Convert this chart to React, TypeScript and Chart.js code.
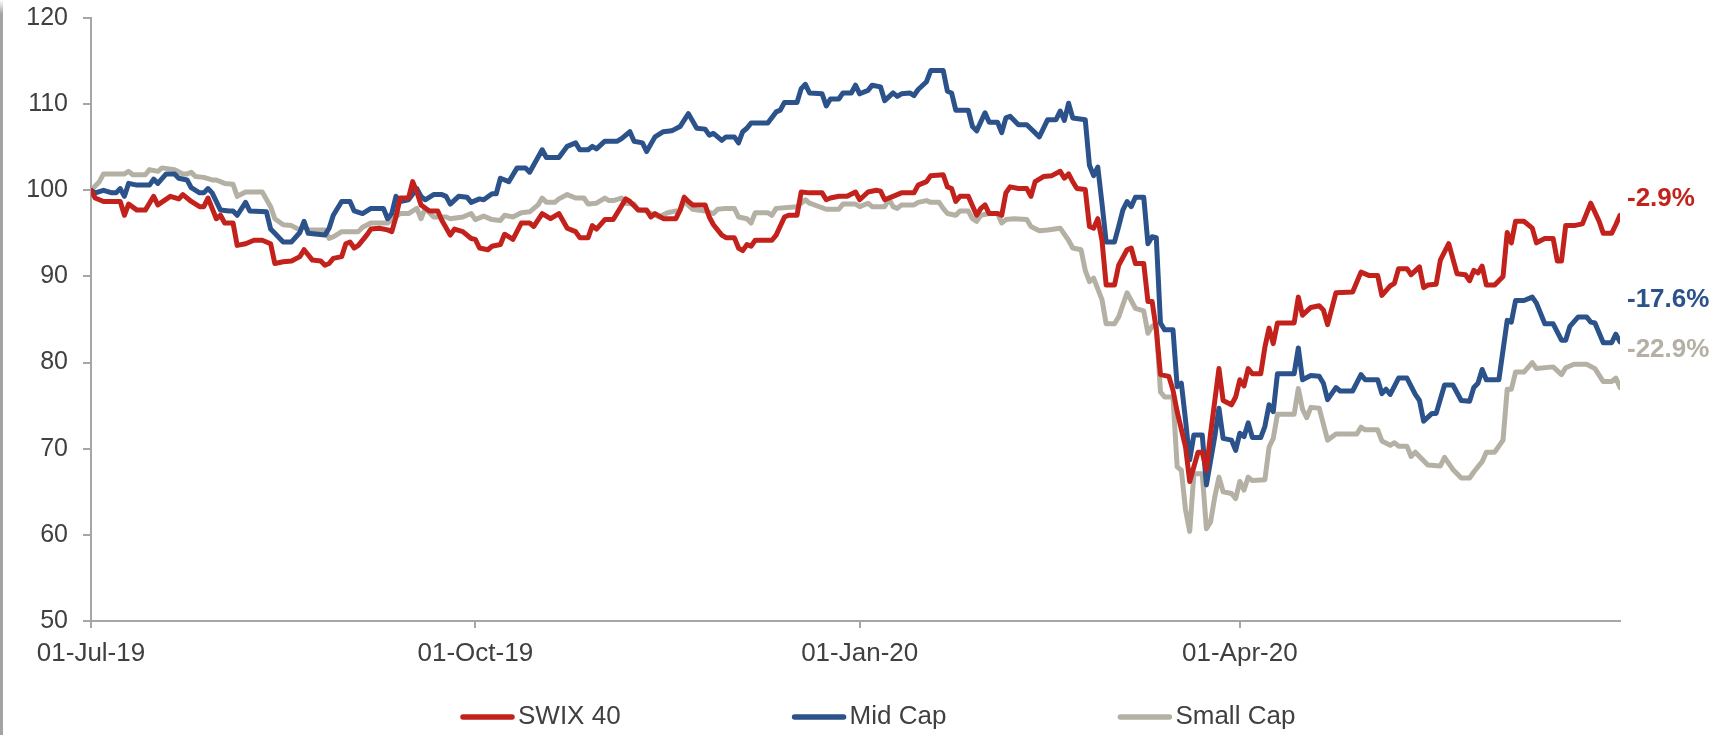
import { useEffect, useRef } from "react";
import { Chart, registerables } from "chart.js";
import type { Plugin } from "chart.js";

Chart.register(...registerables);

const FONT = '"Liberation Sans", Arial, Helvetica, sans-serif';
const TEXT_COLOR = "#404040";
const AXIS_COLOR = "#a6a6a6";

// x positions are days counted from 01-Jul-19
const tickDays = [0, 92, 184, 275];
const tickLabels = ["01-Jul-19", "01-Oct-19", "01-Jan-20", "01-Apr-20"];
const lastDay = 366;

const seriesNames = ["SWIX 40", "Mid Cap", "Small Cap"];
const seriesColors = ["#c3221c", "#2b528a", "#b4b0a4"];

// SWIX 40, rebased to 100
const swixDays = [
  0, 1, 3, 7, 8, 9, 11, 13, 15, 16,
  19, 21, 22, 24, 26, 27, 28, 29, 30, 31,
  32, 34, 35, 37, 39, 41, 43, 44, 46, 48,
  50, 51, 53, 55, 56, 57, 58, 60, 61, 62,
  63, 64, 66, 67, 69, 71, 72, 73, 74, 76,
  77, 78, 79, 81, 83, 84, 86, 87, 89, 91,
  92, 93, 95, 96, 98, 99, 101, 103, 105, 106,
  108, 110, 112, 114, 116, 117, 119, 120, 121, 123,
  125, 126, 128, 129, 131, 133, 134, 135, 137, 140,
  141, 142, 143, 144, 147, 148, 149, 151, 152, 154,
  155, 156, 157, 158, 159, 163, 164, 166, 167, 169,
  170, 172, 175, 176, 177, 179, 181, 183, 184, 186,
  188, 189, 190, 192, 194, 197, 198, 200, 201, 204,
  205, 206, 207, 208, 210, 212, 213, 214, 215, 217,
  218, 219, 220, 222, 224, 225, 226, 228, 230, 232,
  233, 234, 235, 236, 238, 239, 240, 241, 242, 243,
  245, 246, 248, 249, 250, 252, 253, 254, 255, 256,
  258, 259, 260, 262, 263, 264, 265, 266, 267, 268,
  270, 271, 273, 274, 275, 276, 277, 278, 280, 281,
  282, 283, 284, 288, 289, 290, 292, 294, 295, 296,
  298, 302, 304, 306, 308, 309, 311, 312, 313, 315,
  316, 318, 319, 320, 322, 323, 325, 327, 329, 330,
  331, 332, 333, 334, 336, 338, 339, 340, 341, 343,
  345, 346, 348, 350, 351, 352, 353, 355, 357, 359,
  361, 362, 364, 365, 366,
];
const swixValues = [
  100, 99.1, 98.7, 98.7, 97.1, 98.4, 97.7, 97.7, 99.3, 98.3,
  99.3, 99.0, 99.5, 98.7, 98.1, 98.1, 99.1, 97.9, 96.7, 97.1,
  96.2, 96.2, 93.6, 93.8, 94.2, 94.2, 93.8, 91.5, 91.7, 91.8,
  92.3, 93.1, 91.9, 91.8, 91.3, 91.5, 92.1, 92.3, 93.8, 94.0,
  93.3, 93.6, 94.8, 95.5, 95.6, 95.4, 95.2, 96.9, 99.1, 99.1,
  101.0, 99.8, 98.3, 97.6, 97.6, 96.5, 94.8, 95.5, 95.2, 94.4,
  94.3, 93.3, 93.1, 93.5, 93.7, 94.9, 94.3, 96.2, 96.2, 95.8,
  97.3, 96.7, 97.3, 95.6, 95.2, 94.5, 94.5, 95.9, 95.5, 96.6,
  96.6, 97.4, 99.0, 98.7, 97.7, 97.7, 96.9, 97.3, 96.7, 96.7,
  97.7, 99.2, 98.7, 98.3, 98.3, 96.9, 96.0, 94.8, 94.5, 94.5,
  93.3, 93.0, 93.7, 93.5, 94.2, 94.2, 94.8, 96.9, 97.1, 97.1,
  99.8, 99.7, 99.7, 98.9, 99.1, 99.3, 99.3, 99.8, 98.9, 99.8,
  100.0, 99.9, 98.9, 99.3, 99.7, 99.7, 100.6, 101.0, 101.7, 101.8,
  100.4, 100.2, 98.7, 99.3, 99.3, 97.1, 97.9, 98.3, 97.3, 97.3,
  97.1, 99.7, 100.4, 100.2, 100.2, 99.3, 101.0, 101.6, 101.7, 102.2,
  101.4, 101.9, 101.0, 100.2, 100.1, 95.8, 95.6, 96.7, 94.2, 89.0,
  89.0, 91.3, 93.1, 93.3, 91.5, 91.5, 87.1, 87.1, 83.8, 78.6,
  78.4, 76.8, 74.3, 70.2, 66.2, 67.9, 69.6, 69.6, 67.5, 71.8,
  79.3, 75.6, 75.1, 76.0, 78.0, 77.3, 79.3, 78.7, 78.7, 81.8,
  84.0, 82.2, 84.6, 84.6, 87.6, 85.5, 86.4, 86.6, 86.1, 84.4,
  88.1, 88.2, 90.5, 90.1, 90.1, 87.8, 88.9, 89.2, 90.9, 90.9,
  90.2, 91.1, 88.7, 89.0, 89.1, 91.9, 93.8, 90.3, 90.2, 89.5,
  90.7, 90.4, 91.2, 89.0, 89.0, 90.0, 95.1, 93.9, 96.4, 96.4,
  95.6, 93.9, 94.4, 94.4, 91.8, 91.8, 95.9, 95.9, 96.1, 98.5,
  96.4, 95.0, 95.0, 96.0, 97.1,
];

// Mid Cap, rebased to 100
const midDays = [
  0, 1, 3, 5, 6, 7, 8, 9, 11, 14,
  15, 16, 18, 20, 21, 23, 24, 26, 27, 28,
  29, 31, 33, 34, 35, 37, 38, 42, 43, 44,
  46, 48, 50, 51, 52, 56, 57, 58, 60, 62,
  63, 65, 67, 70, 71, 72, 73, 74, 76, 78,
  79, 80, 82, 84, 85, 86, 88, 90, 91, 93,
  94, 96, 97, 98, 100, 102, 104, 105, 108, 109,
  112, 114, 116, 117, 119, 120, 121, 123, 126, 127,
  129, 130, 132, 133, 135, 137, 139, 141, 143, 145,
  147, 148, 149, 151, 152, 154, 155, 156, 157, 158,
  162, 164, 165, 166, 169, 170, 171, 172, 175, 176,
  177, 179, 180, 182, 183, 184, 186, 187, 189, 190,
  192, 193, 194, 196, 197, 198, 200, 201, 204, 205,
  206, 207, 210, 211, 212, 214, 215, 217, 218, 219,
  220, 222, 224, 227, 229, 231, 232, 233, 234, 235,
  238, 239, 240, 241, 242, 243, 245, 246, 247, 248,
  249, 250, 252, 253, 254, 255, 256, 257, 259, 260,
  261, 262, 263, 264, 266, 267, 269, 270, 271, 273,
  274, 275, 276, 277, 278, 280, 281, 282, 283, 284,
  288, 289, 290, 292, 294, 295, 296, 298, 299, 302,
  304, 305, 308, 309, 310, 311, 313, 315, 317, 318,
  319, 321, 322, 324, 326, 328, 330, 331, 332, 333,
  334, 337, 339, 340, 341, 343, 345, 346, 348, 350,
  352, 353, 354, 356, 358, 359, 360, 362, 364, 365,
  366,
];
const midValues = [
  100, 99.7, 100.0, 99.7, 99.7, 100.2, 99.3, 100.8, 100.6, 100.6,
  101.3, 100.8, 101.9, 101.9, 101.4, 101.2, 100.3, 99.7, 99.7, 100.2,
  99.7, 97.7, 97.6, 97.6, 97.1, 98.6, 97.6, 97.5, 95.5, 95.0,
  94.0, 94.0, 95.1, 96.4, 95.0, 94.8, 95.6, 97.1, 98.7, 98.7,
  97.6, 97.3, 97.9, 97.9, 96.7, 97.3, 99.3, 98.7, 98.9, 100.2,
  99.3, 98.9, 99.5, 99.5, 99.3, 98.4, 99.3, 99.2, 98.6, 99.0,
  98.9, 99.6, 99.6, 101.4, 101.0, 102.6, 102.6, 102.1, 104.7, 103.8,
  103.8, 105.1, 105.5, 104.7, 104.7, 105.1, 104.8, 105.7, 105.7, 106.0,
  106.8, 105.7, 105.5, 104.5, 106.2, 106.8, 106.9, 107.4, 108.9, 107.2,
  107.1, 106.4, 106.6, 105.8, 106.2, 106.2, 105.5, 106.8, 107.2, 107.8,
  107.8, 109.1, 109.3, 110.2, 110.2, 111.8, 112.3, 111.3, 111.2, 109.8,
  110.6, 110.6, 111.3, 111.3, 112.2, 111.2, 111.6, 112.2, 112.0, 110.4,
  111.3, 110.9, 111.2, 111.3, 111.0, 111.7, 112.6, 113.9, 113.9, 111.5,
  111.3, 109.3, 109.3, 107.4, 106.9, 109.0, 107.9, 107.9, 106.7, 108.4,
  108.6, 107.6, 107.6, 106.2, 108.2, 108.2, 109.2, 108.1, 110.1, 108.4,
  108.2, 102.9, 101.7, 102.7, 98.5, 94.0, 94.0, 95.8, 97.7, 98.7,
  98.1, 99.2, 99.2, 93.8, 94.6, 94.5, 84.6, 83.8, 83.8, 77.2,
  77.6, 73.3, 68.7, 71.6, 71.6, 65.8, 71.4, 74.7, 71.2, 71.0,
  69.8, 71.8, 71.4, 73.0, 71.3, 71.3, 72.6, 75.1, 74.3, 78.7,
  78.7, 81.7, 78.0, 78.5, 78.4, 77.6, 75.7, 77.1, 76.7, 76.7,
  78.6, 78.0, 78.0, 76.4, 76.9, 76.3, 78.2, 78.2, 76.3, 75.6,
  73.2, 74.1, 74.1, 77.4, 77.4, 75.6, 75.5, 77.1, 77.6, 79.2,
  78.0, 78.0, 84.9, 84.7, 87.2, 87.2, 87.6, 86.9, 84.5, 84.5,
  82.6, 82.6, 84.2, 85.3, 85.3, 84.7, 84.6, 82.3, 82.3, 83.3,
  82.4,
];

// Small Cap, rebased to 100
const smallDays = [
  0, 2, 3, 8, 9, 10, 13, 14, 16, 17,
  20, 22, 23, 24, 25, 27, 29, 30, 32, 34,
  35, 37, 41, 43, 44, 46, 48, 50, 51, 52,
  56, 57, 58, 60, 64, 65, 67, 71, 72, 74,
  76, 78, 79, 80, 82, 85, 86, 89, 91, 92,
  94, 96, 98, 99, 101, 103, 105, 107, 108, 109,
  111, 112, 114, 116, 118, 119, 121, 123, 124, 125,
  127, 128, 130, 131, 133, 134, 136, 138, 141, 142,
  144, 147, 149, 150, 152, 154, 155, 157, 158, 159,
  162, 163, 164, 169, 171, 172, 176, 179, 180, 183,
  184, 186, 187, 190, 191, 192, 193, 194, 197, 198,
  200, 201, 203, 204, 205, 207, 208, 210, 211, 212,
  213, 215, 217, 218, 219, 221, 224, 225, 227, 229,
  232, 234, 235, 237, 238, 239, 240, 242, 243, 245,
  246, 248, 250, 252, 253, 254, 255, 256, 257, 259,
  260, 261, 262, 263, 264, 266, 267, 268, 269, 270,
  271, 273, 274, 275, 276, 277, 278, 281, 282, 283,
  284, 288, 289, 290, 291, 292, 294, 296, 298, 303,
  304, 305, 308, 309, 311, 312, 313, 315, 316, 317,
  320, 323, 324, 326, 328, 330, 331, 333, 334, 336,
  338, 339, 340, 341, 343, 345, 346, 350, 352, 353,
  355, 358, 360, 362, 364, 365, 366,
];
const smallValues = [
  100, 101.0, 101.9, 101.9, 102.2, 101.8, 101.8, 102.4, 102.2, 102.6,
  102.4, 101.9, 101.9, 102.1, 101.6, 101.5, 101.2, 101.2, 100.8, 100.7,
  99.3, 99.8, 99.8, 98.1, 96.7, 96.0, 95.9, 95.4, 95.8, 95.4,
  95.4, 94.4, 94.6, 95.2, 95.2, 95.7, 96.2, 96.2, 96.6, 97.3,
  97.3, 97.9, 96.7, 97.9, 96.9, 96.9, 96.7, 96.9, 97.3, 96.6,
  97.0, 96.6, 96.5, 97.1, 96.9, 97.4, 97.5, 98.3, 99.1, 98.6,
  98.6, 99.0, 99.5, 99.1, 99.1, 98.4, 98.5, 99.1, 98.8, 98.8,
  99.1, 98.5, 98.4, 97.7, 97.6, 97.3, 96.9, 97.4, 97.7, 98.7,
  97.8, 97.6, 97.3, 97.8, 97.9, 97.9, 96.9, 96.7, 96.2, 97.4,
  97.4, 97.1, 97.9, 98.1, 98.9, 98.5, 97.8, 97.8, 98.4, 98.4,
  98.1, 98.5, 98.1, 98.1, 99.0, 98.1, 97.9, 98.3, 98.3, 98.6,
  98.8, 98.6, 98.6, 97.9, 97.3, 97.1, 97.6, 97.6, 96.7, 96.4,
  97.1, 97.3, 97.3, 96.2, 96.6, 96.7, 96.6, 95.8, 95.3, 95.4,
  95.6, 94.2, 93.3, 93.1, 90.7, 89.4, 89.8, 87.3, 84.5, 84.5,
  85.3, 88.1, 86.3, 86.0, 83.4, 84.2, 84.4, 76.6, 76.0, 76.0,
  67.9, 67.5, 62.9, 60.4, 67.1, 67.1, 60.7, 61.5, 64.4, 66.7,
  65.0, 64.8, 64.2, 66.2, 65.2, 66.7, 66.3, 66.4, 70.2, 71.2,
  74.0, 74.0, 77.0, 74.6, 73.6, 74.8, 74.7, 71.0, 71.7, 71.7,
  72.5, 72.2, 72.2, 70.9, 70.4, 70.7, 70.3, 70.3, 69.1, 69.6,
  68.1, 68.0, 69.0, 67.6, 66.6, 66.6, 67.3, 68.5, 69.6, 69.6,
  71.0, 76.9, 76.9, 78.9, 78.9, 80.0, 79.3, 79.5, 78.6, 79.4,
  79.8, 79.8, 79.3, 77.8, 77.8, 78.2, 77.1,
];

const seriesDays = [swixDays, midDays, smallDays];
const seriesValues = [swixValues, midValues, smallValues];

// how far each return label sits above the end of its line, in px
const labelLift = [16, 42, 38];

const toPoints = (days: number[], values: number[]) =>
  days.slice(0, Math.min(days.length, values.length)).map((d, i) => ({ x: d, y: values[i] }));

// Period return written to the right of each line
const endLabels: Plugin<"line"> = {
  id: "endLabels",
  afterDatasetsDraw(chart) {
    const { ctx } = chart;
    const xs = chart.scales.x;
    const ys = chart.scales.y;
    ctx.save();
    ctx.font = `bold 26px ${FONT}`;
    ctx.textAlign = "left";
    ctx.textBaseline = "middle";
    chart.data.datasets.forEach((ds, i) => {
      const pts = ds.data as { x: number; y: number }[];
      const first = pts[0];
      const last = pts[pts.length - 1];
      const ret = (last.y / first.y - 1) * 100;
      ctx.fillStyle = ds.borderColor as string;
      ctx.fillText(`${ret.toFixed(1)}%`, xs.right + 7, ys.getPixelForValue(last.y) - labelLift[i]);
    });
    ctx.restore();
  },
};

// Legend row along the bottom: short line swatch followed by the series name
const bottomLegend: Plugin<"line"> = {
  id: "bottomLegend",
  afterDraw(chart) {
    const { ctx } = chart;
    const y = 717;
    let x = 460;
    ctx.save();
    ctx.font = `26px ${FONT}`;
    ctx.textAlign = "left";
    ctx.textBaseline = "middle";
    chart.data.datasets.forEach((ds) => {
      ctx.strokeStyle = ds.borderColor as string;
      ctx.lineWidth = 5.5;
      ctx.lineCap = "round";
      ctx.beginPath();
      ctx.moveTo(x + 3, y);
      ctx.lineTo(x + 52, y);
      ctx.stroke();
      ctx.fillStyle = TEXT_COLOR;
      const label = ds.label ?? "";
      ctx.fillText(label, x + 58, y);
      x += 58 + ctx.measureText(label).width + 171;
    });
    ctx.restore();
  },
};

export default function App() {
  const canvasRef = useRef<HTMLCanvasElement | null>(null);

  useEffect(() => {
    document.body.style.margin = "0";
    document.body.style.overflow = "hidden";
    const canvas = canvasRef.current;
    if (!canvas) return;

    const chart = new Chart(canvas, {
      type: "line",
      data: {
        datasets: seriesNames.map((name, i) => ({
          label: name,
          data: toPoints(seriesDays[i], seriesValues[i]),
          borderColor: seriesColors[i],
          backgroundColor: seriesColors[i],
          borderWidth: 5,
          pointRadius: 0,
          tension: 0,
          borderJoinStyle: "round" as const,
          borderCapStyle: "round" as const,
        })),
      },
      options: {
        animation: false,
        responsive: false,
        maintainAspectRatio: false,
        devicePixelRatio: 1,
        events: [],
        layout: { padding: { top: 18, right: 99, bottom: 0, left: 0 } },
        plugins: {
          legend: { display: false },
          tooltip: { enabled: false },
        },
        scales: {
          x: {
            type: "linear",
            min: 0,
            max: lastDay,
            afterBuildTicks(scale) {
              scale.ticks = tickDays.map((v) => ({ value: v }));
            },
            afterFit(scale) {
              scale.height = 114;
            },
            ticks: {
              autoSkip: false,
              maxRotation: 0,
              padding: 10,
              color: TEXT_COLOR,
              font: { family: FONT, size: 26 },
              callback: (value) => {
                const k = tickDays.indexOf(Number(value));
                return k >= 0 ? tickLabels[k] : "";
              },
            },
            grid: {
              drawOnChartArea: false,
              drawTicks: true,
              tickLength: 7,
              color: AXIS_COLOR,
              lineWidth: 2,
            },
            border: { display: true, color: AXIS_COLOR, width: 2 },
          },
          y: {
            min: 50,
            max: 120,
            afterFit(scale) {
              scale.width = 91;
              scale.paddingTop = 0;
              scale.paddingBottom = 0;
            },
            ticks: {
              stepSize: 10,
              padding: 15,
              color: TEXT_COLOR,
              font: { family: FONT, size: 25 },
            },
            grid: {
              drawOnChartArea: false,
              drawTicks: true,
              tickLength: 8,
              color: AXIS_COLOR,
              lineWidth: 2,
            },
            border: { display: true, color: AXIS_COLOR, width: 2 },
          },
        },
      },
      plugins: [endLabels, bottomLegend],
    });

    return () => chart.destroy();
  }, []);

  return (
    <div style={{ position: "relative", width: 1719, height: 735, background: "#fff", overflow: "hidden" }}>
      <canvas ref={canvasRef} width={1719} height={735} style={{ display: "block", width: 1719, height: 735 }} />
      <div
        style={{
          position: "absolute",
          left: 0,
          top: 0,
          width: 3,
          height: 735,
          background: "linear-gradient(to bottom, #ffffff 0px, #a3a3a3 14px, #a3a3a3 100%)",
        }}
      />
    </div>
  );
}
